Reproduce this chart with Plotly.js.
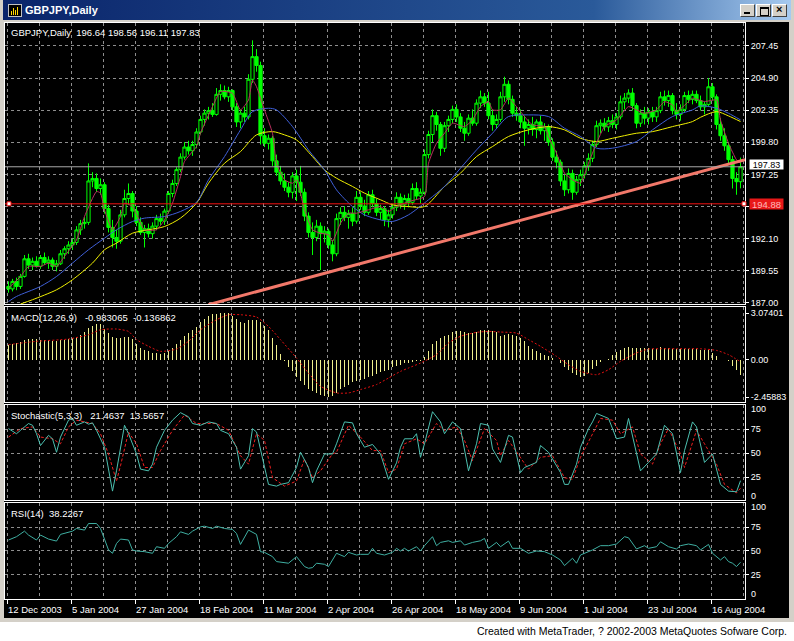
<!DOCTYPE html>
<html><head><meta charset="utf-8">
<script src="https://cdn.plot.ly/plotly-3.0.1.min.js"></script>
<style>
html,body{margin:0;padding:0;width:794px;height:641px;overflow:hidden;background:#fff;}
#win{position:absolute;left:0;top:0;width:794px;height:622px;background:#D4D0C8;}
#tb{position:absolute;left:3px;top:0;width:788px;height:20px;background:linear-gradient(to right,#0A246A 0%,#2A5A9A 75%,#A6CAF0 100%);}
#icon{position:absolute;left:5px;top:4px;width:12px;height:11px;background:#000;border:1px solid #C0C0C0;}
#icon i{position:absolute;bottom:1px;width:1px;background:#FFD800;}
#ttl{position:absolute;left:22px;top:3px;font:bold 11px "Liberation Sans",Arial,sans-serif;color:#fff;line-height:14px;white-space:nowrap;}
.btn{position:absolute;top:4px;width:15px;height:13px;background:#D4D0C8;border-top:1px solid #fff;border-left:1px solid #fff;border-right:1px solid #404040;border-bottom:1px solid #404040;box-sizing:border-box;}
.btn b{position:absolute;display:block;}
#chart{position:absolute;left:4px;top:22px;width:785px;height:596px;background:#000;}
#foot{position:absolute;right:7px;top:625px;font:10.5px "Liberation Sans",Arial,sans-serif;color:#000;white-space:nowrap;line-height:13px;}
</style></head>
<body>
<div id="win">
  <div id="tb">
    <div id="icon"><i style="left:2px;height:4px"></i><i style="left:4px;height:7px"></i><i style="left:6px;height:5px"></i><i style="left:8px;height:8px"></i></div>
    <div id="ttl">GBPJPY,Daily</div>
  </div>
  <div class="btn" style="left:740px"><b style="left:3px;top:7px;width:6px;height:2px;background:#000"></b></div>
  <div class="btn" style="left:756px"><b style="left:3px;top:2px;width:7px;height:6px;border:1px solid #000;border-top-width:2px"></b></div>
  <div class="btn" style="left:772px"><b style="left:3px;top:-2px;font:bold 11px 'Liberation Sans',Arial;color:#000">&#215;</b></div>
  <div id="chart"></div>
</div>
<div id="foot">Created with MetaTrader, ? 2002-2003 MetaQuotes Sofware Corp.</div>
<script>
// ---------------- DATA ----------------
const symbolName = 'GBPJPY,Daily';
const dateLabels = ['12 Dec 2003','5 Jan 2004','27 Jan 2004','18 Feb 2004','11 Mar 2004','2 Apr 2004','26 Apr 2004','18 May 2004','9 Jun 2004','1 Jul 2004','23 Jul 2004','16 Aug 2004'];
const dateIdx = [0,16,32,48,64,80,96,112,128,144,160,176];
const priceTickVals = [187.00,189.556,192.113,194.669,197.225,199.781,202.338,204.894,207.45];
// the 194.65 label is hidden behind the red level box in the original
const priceTickText = ['187.00','189.55','192.10','','197.25','199.80','202.35','204.90','207.45'];

const opens = [188.30,188.10,188.70,188.30,189.10,190.50,190.00,190.30,189.90,190.60,
190.20,190.40,189.90,190.10,190.90,191.30,191.60,191.80,192.80,193.30,
193.40,196.70,196.90,196.10,196.40,194.50,193.00,192.20,191.90,194.00,
195.30,195.70,194.30,193.40,192.60,192.90,192.50,193.10,193.70,193.50,
194.30,195.70,196.50,197.60,198.60,199.40,199.10,199.60,200.60,201.60,
202.10,202.30,202.00,203.60,203.90,203.40,203.90,202.60,201.40,202.10,
201.80,204.80,206.60,205.90,200.30,199.70,200.10,198.30,197.40,196.70,
196.20,195.80,197.10,196.60,195.80,193.90,192.60,192.20,193.10,192.50,
192.70,191.60,190.90,193.70,194.20,193.80,194.10,193.50,195.40,194.70,
194.20,195.60,194.90,194.20,194.50,193.60,194.00,194.60,195.40,194.80,
195.30,195.00,196.10,195.50,195.80,198.80,200.40,201.90,201.20,199.30,
201.10,201.60,202.40,201.80,200.90,200.50,201.70,201.30,202.90,203.40,
202.90,201.90,201.20,201.60,203.40,204.40,203.20,202.10,201.90,201.40,
200.90,201.20,200.80,201.40,200.70,201.00,199.80,198.60,198.20,196.70,
196.00,197.30,195.80,196.80,197.20,197.90,198.50,199.60,201.10,201.30,
201.00,201.50,201.20,201.80,203.00,203.30,203.70,202.70,201.30,202.10,
201.70,202.20,201.80,202.30,203.40,203.10,203.50,202.30,202.00,202.40,
203.50,203.20,203.60,203.10,202.60,202.80,204.20,203.40,201.20,200.30,
199.50,198.40,196.90,196.64];
const highs = [188.70,188.90,189.00,189.30,190.80,190.90,190.60,190.70,190.80,191.00,
190.70,190.60,190.40,191.20,191.50,191.90,192.10,193.10,193.60,193.80,
198.10,197.40,197.30,196.90,196.60,194.80,193.60,192.80,194.40,196.00,
196.50,195.90,194.70,193.80,193.20,193.30,193.40,194.00,194.10,194.50,
195.90,196.80,197.80,198.90,199.80,199.90,199.90,200.90,201.90,202.40,
202.60,202.90,204.10,204.40,204.30,204.20,204.00,202.90,202.40,202.60,
205.20,207.90,207.20,206.20,200.90,200.40,200.30,198.80,197.90,197.30,
196.60,197.40,197.60,197.90,196.10,194.20,193.40,193.60,193.40,193.10,
192.90,192.00,194.10,194.60,194.70,194.40,194.60,195.90,195.80,195.20,
195.90,196.00,195.30,194.80,194.70,194.40,194.90,195.80,195.70,195.60,
195.70,196.50,196.60,196.10,199.20,200.70,202.40,202.20,201.40,201.40,
201.90,202.70,202.80,202.10,201.40,202.00,202.40,203.20,203.90,203.70,
203.80,202.40,202.00,203.80,205.00,204.70,203.50,202.60,202.40,201.90,
201.60,201.80,201.60,201.90,201.30,201.20,200.10,199.10,198.40,197.20,
197.70,197.60,197.10,197.60,198.20,198.90,199.90,201.50,201.60,201.70,
201.80,202.00,202.10,203.50,203.70,204.00,204.10,202.90,202.40,202.60,
202.50,202.60,202.60,203.80,203.90,203.90,203.70,202.90,202.80,203.80,
203.90,203.90,203.90,203.50,203.00,204.90,204.50,203.60,201.70,200.90,
199.80,198.70,197.40,198.56];
const lows = [187.80,187.90,188.00,188.10,189.00,189.70,189.60,189.80,189.70,190.00,
189.70,189.60,189.50,190.00,190.50,190.90,191.20,191.60,192.40,192.90,
193.20,196.20,195.80,195.60,194.10,192.60,191.40,191.30,191.70,193.80,
194.80,193.80,193.10,192.40,191.40,192.20,192.10,192.80,193.20,193.20,
194.10,195.40,196.30,197.40,198.40,198.80,198.70,199.30,200.40,201.10,
201.60,201.80,201.90,203.10,203.20,203.00,202.30,201.00,200.90,201.40,
201.60,204.50,205.40,199.60,199.40,199.20,197.90,197.10,196.40,195.90,
195.40,195.30,195.10,195.50,193.50,192.20,190.80,191.90,189.60,191.80,
191.30,190.30,190.70,193.20,193.50,192.90,193.10,193.30,194.40,193.90,
194.00,194.60,193.90,193.60,193.10,193.00,193.70,194.30,194.50,194.40,
194.60,194.80,195.20,194.90,195.60,198.50,199.80,200.70,198.70,199.00,
200.60,201.30,201.40,200.60,199.90,200.30,201.10,201.10,202.50,202.60,
201.60,200.70,200.90,201.40,203.00,202.80,201.80,201.50,200.90,199.50,
200.40,200.30,200.10,200.40,199.90,199.50,198.30,197.70,196.30,195.50,
195.70,195.20,195.60,196.30,196.90,197.50,198.20,199.40,200.50,200.70,
200.60,200.90,200.80,201.60,202.40,202.90,202.30,200.90,201.00,201.20,
201.20,201.40,201.40,202.10,202.70,202.60,202.00,201.60,201.50,202.20,
202.90,202.80,202.90,202.30,202.00,202.60,203.10,200.80,199.90,199.10,
198.00,196.10,195.60,196.11];
const closes = [188.10,188.70,188.30,189.10,190.50,190.00,190.30,189.90,190.60,190.20,
190.40,189.90,190.10,190.90,191.30,191.60,191.80,192.80,193.30,193.40,
196.70,196.90,196.10,196.40,194.50,193.00,192.20,191.90,194.00,195.30,
195.70,194.30,193.40,192.60,192.90,192.50,193.10,193.70,193.50,194.30,
195.70,196.50,197.60,198.60,199.40,199.10,199.60,200.60,201.60,202.10,
202.30,202.00,203.60,203.90,203.40,203.90,202.60,201.40,202.10,201.80,
204.80,206.60,205.90,200.30,199.70,200.10,198.30,197.40,196.70,196.20,
195.80,197.10,196.60,195.80,193.90,192.60,192.20,193.10,192.50,192.70,
191.60,190.90,193.70,194.20,193.80,194.10,193.50,195.40,194.70,194.20,
195.60,194.90,194.20,194.50,193.60,194.00,194.60,195.40,194.80,195.30,
195.00,196.10,195.50,195.80,198.80,200.40,201.90,201.20,199.30,201.10,
201.60,202.40,201.80,200.90,200.50,201.70,201.30,202.90,203.40,202.90,
201.90,201.20,201.60,203.40,204.40,203.20,202.10,201.90,201.40,200.90,
201.20,200.80,201.40,200.70,201.00,199.80,198.60,198.20,196.70,196.00,
197.30,195.80,196.80,197.20,197.90,198.50,199.60,201.10,201.30,201.00,
201.50,201.20,201.80,203.00,203.30,203.70,202.70,201.30,202.10,201.70,
202.20,201.80,202.30,203.40,203.10,203.50,202.30,202.00,202.40,203.50,
203.20,203.60,203.10,202.60,202.80,204.20,203.40,201.20,200.30,199.50,
198.40,196.90,196.64,197.83];

// moving averages (bar index, price)
const blueX = [0,2,8,12,16,20,24,27,31,34,39,43,47,50,54,58,61,65,67,71,75,79,82,86,89,93,96,100,105,109,113,117,121,125,130,135,139,143,147,151,157,161,166,171,173,177,180,183];
const blueY = [187.10,187.50,188.30,189.09,190.16,191.22,192.14,192.81,193.47,193.74,193.87,194.27,195.00,196.79,198.64,200.77,202.22,202.49,202.36,201.03,199.17,197.58,195.99,194.66,194.00,193.60,193.47,194.00,195.20,196.26,197.72,199.17,200.50,201.83,201.96,201.83,200.90,200.24,199.31,199.31,199.84,200.77,201.83,202.36,202.68,202.49,202.09,201.56];
const yellowX = [3,6,12,16,21,24,27,31,35,39,43,47,50,54,58,62,66,69,72,76,79,82,86,89,93,96,100,104,109,113,117,121,125,130,135,139,143,147,151,157,161,166,171,173,177,180,183];
const yellowY = [186.90,187.24,188.03,188.83,190.16,191.22,191.75,192.54,192.81,193.07,193.74,194.93,196.52,198.11,199.04,200.37,200.63,200.37,199.97,198.64,197.58,196.92,196.26,195.73,195.20,194.80,194.66,194.66,196.26,197.32,198.64,199.44,200.24,200.77,201.03,200.77,200.10,199.84,200.10,200.50,200.63,201.03,201.43,201.77,202.22,201.88,201.43];
const pinkX = [0,3,5,8,10,12,14,17,19,22,23,24,26,28,29,31,33,34,37,39,41,43,44,47,48,51,53,56,58,60,61,62,64,66,67,69,71,72,74,76,78,80,81,83,85,87,90,93,95,97,100,104,105,107,109,111,114,116,118,120,121,123,125,127,129,131,134,135,137,139,141,143,145,147,149,152,155,157,159,162,164,166,167,170,171,174,177,178,180,182,183];
const pinkY = [188.17,189.09,189.89,189.89,190.16,189.89,190.69,192.01,193.87,195.86,195.73,194.40,192.81,193.87,194.93,194.66,193.34,192.81,192.81,193.60,194.93,197.05,198.25,199.44,200.50,202.62,203.82,203.68,202.36,203.15,204.74,204.21,202.36,200.50,198.11,196.79,196.52,196.79,194.40,192.81,192.54,192.41,191.88,193.34,194.13,194.13,194.40,194.66,194.27,194.66,195.06,195.46,198.11,199.70,200.50,201.30,201.03,201.56,202.62,203.02,202.36,202.36,203.29,202.62,201.83,201.16,201.03,200.24,198.91,197.32,196.79,196.52,198.11,199.70,201.03,201.56,202.62,202.36,202.09,202.36,203.02,202.75,202.22,203.02,203.29,203.02,203.15,201.56,199.70,198.38,198.11];

// drawn objects
const levelPrice = 194.88;
const trendX = [50, 184.125];
const trendY = [186.85, 198.39];

// MACD(12,26,9)
const macdHist = [0.99,1.05,1.12,1.18,1.30,1.33,1.35,1.36,1.32,1.30,1.28,1.26,1.25,1.28,1.30,1.36,1.40,1.50,1.60,1.80,
2.08,2.25,2.37,2.32,2.05,1.75,1.52,1.45,1.46,1.50,1.48,1.35,1.05,0.77,0.65,0.55,0.46,0.41,0.39,0.45,
0.55,0.80,1.05,1.32,1.55,1.75,1.95,2.15,2.50,2.70,2.85,2.98,3.03,3.07401,3.05,3.07,2.85,2.70,2.45,2.40,
2.59,2.63,2.60,2.46,2.20,1.97,1.45,0.95,0.40,-0.11,-0.45,-0.75,-1.15,-1.40,-1.64,-1.90,-2.05,-2.22,-2.35,-2.41,
-2.45883,-2.38,-2.20,-1.93,-1.78,-1.64,-1.48,-1.40,-1.32,-1.25,-1.14,-1.05,-0.95,-0.80,-0.72,-0.66,-0.50,-0.40,-0.33,-0.25,
-0.20,-0.15,-0.12,-0.08,0.15,0.55,1.00,1.25,1.43,1.55,1.64,1.80,1.86,1.86,1.80,1.75,1.78,1.80,1.93,1.95,
1.97,1.90,1.80,1.58,1.65,1.71,1.62,1.58,1.40,1.20,0.88,0.70,0.55,0.44,0.30,0.22,0.08,0.00,-0.25,-0.45,
-0.66,-0.85,-0.99,-1.14,-1.05,-0.88,-0.60,-0.40,-0.15,-0.05,0.04,0.30,0.50,0.66,0.75,0.83,0.80,0.77,0.78,0.76,
0.77,0.72,0.70,0.83,0.80,0.77,0.72,0.70,0.70,0.72,0.70,0.70,0.68,0.66,0.65,0.66,0.45,0.25,0.00,-0.05,
-0.11,-0.40,-0.70,-0.983065];
const macdSigX = [0,7,15,20,23,27,30,32,35,38,42,45,48,52,55,58,62,65,68,72,75,78,82,85,88,92,95,98,100,103,107,110,113,117,120,123,127,130,133,137,140,143,147,150,153,157,160,163,167,170,173,177,180,183];
const macdSigY = [0.99,1.21,1.36,1.64,1.97,2.02,1.86,1.32,0.88,0.55,0.70,1.21,1.97,2.63,2.96,2.96,2.81,2.19,1.32,0.11,-0.88,-1.75,-2.19,-2.19,-1.97,-1.64,-1.21,-0.77,-0.55,-0.22,0.33,1.10,1.54,1.80,1.86,1.82,1.75,1.32,0.88,0.22,-0.33,-0.77,-0.99,-0.66,-0.11,0.44,0.70,0.72,0.72,0.72,0.72,0.61,0.33,-0.136862];
const macdTicks = [3.07401, 0, -2.45883];
const macdTickText = ['3.07401','0.00','-2.45883'];

// Stochastic(5,3,3)
const stochKX = [0,2,3,5,6,7,8,10,11,12,13,15,16,17,19,20,21,22,24,25,26,27,29,30,32,33,35,36,37,39,41,43,45,46,48,50,52,53,55,57,58,60,61,62,63,65,67,68,70,72,73,75,76,77,79,81,82,84,86,87,89,91,93,95,97,98,99,101,102,103,104,106,108,109,111,113,115,117,118,120,121,123,125,126,128,129,132,133,135,138,139,140,142,143,145,146,147,148,150,152,154,155,156,158,160,162,164,166,168,169,171,172,174,176,178,180,182,183];
const stochKY = [75.7,70.4,73.9,81.0,79.2,70.4,58.1,68.7,65.1,51.1,66.9,84.5,86.3,79.2,82.7,80.3,81.7,73.9,56.3,35.2,10.6,31.7,79.2,70.4,49.3,33.5,31.7,38.7,56.3,73.9,84.5,92.3,88.0,81.0,79.2,82.7,81.0,73.9,70.4,56.3,33.5,47.5,75.7,72.2,52.8,17.6,15.8,17.6,19.4,35.2,51.1,35.2,19.4,31.7,49.3,49.3,59.9,82.7,81.7,70.4,56.3,59.2,49.3,22.9,40.0,56.3,65.1,65.1,70.4,45.8,59.9,93.3,82.7,70.4,82.7,75.7,31.7,59.9,81.0,79.2,54.6,40.5,68.7,66.9,29.9,35.2,40.5,58.1,51.1,29.9,17.6,17.6,38.7,56.3,75.7,82.7,91.5,89.8,86.3,65.1,66.9,86.3,66.9,31.7,40.5,49.3,79.2,70.4,29.9,52.8,82.7,77.5,40.5,49.3,17.6,10.6,9.9,21.4637];
const stochDX = [0,3,6,8,11,13,15,17,21,23,25,27,28,30,32,34,36,38,41,44,47,52,55,58,60,62,64,66,69,72,74,76,78,81,82,85,88,91,93,95,97,99,102,104,107,109,112,114,116,119,122,123,125,128,130,133,136,139,141,143,146,148,151,153,156,158,161,163,165,168,169,172,174,177,179,182,183];
const stochDY = [66.9,75.7,77.5,66.9,65.1,59.9,77.5,84.5,81.0,70.4,49.3,21.1,37.0,72.2,59.9,35.2,35.2,52.8,73.9,89.8,81.0,81.0,73.9,47.5,38.7,70.4,63.4,24.6,15.8,21.1,44.0,24.6,31.7,49.3,51.1,79.2,66.9,52.8,52.8,29.9,33.5,59.9,65.1,59.9,81.0,73.9,77.5,63.4,42.3,75.7,63.4,47.5,63.4,45.8,33.5,45.8,47.5,24.6,22.9,45.8,70.4,86.3,84.5,70.4,77.5,49.3,38.7,59.9,75.7,49.3,35.2,73.9,59.9,38.7,17.6,8.8,13.5657];

// RSI(14)
const rsiX = [0,2,4,5,7,8,10,12,13,15,16,17,19,20,22,23,24,25,26,27,28,30,31,32,34,36,37,39,40,42,43,45,46,48,49,51,52,54,56,57,58,59,60,62,63,64,66,67,70,72,74,75,76,77,79,80,82,84,85,87,88,90,91,92,94,96,97,98,99,100,102,103,104,106,107,108,110,111,113,114,116,118,119,120,122,123,125,126,128,130,132,134,136,138,139,141,142,143,145,146,148,150,152,154,155,157,159,160,162,163,165,167,168,170,172,173,175,176,178,179,180,181,182,183];
const rsiY = [61.5,65.0,70.8,66.7,61.5,66.7,62.5,60.4,67.4,69.4,70.8,73.6,71.9,78.8,78.8,73.6,61.5,51.1,47.6,57.9,62.5,61.5,51.1,50.0,49.3,47.6,54.5,52.8,57.9,65.0,70.1,67.4,70.8,75.3,76.0,73.6,76.0,73.6,72.6,68.4,56.9,65.0,71.9,67.4,49.3,48.6,44.1,38.9,37.2,44.1,33.7,31.9,32.6,37.2,36.1,33.7,47.6,44.1,48.6,45.8,46.5,46.5,52.8,47.6,45.8,48.6,52.8,50.0,52.8,50.0,54.5,50.0,55.6,65.0,55.6,59.0,60.7,59.0,60.7,56.2,59.0,60.7,63.2,52.8,59.0,54.5,60.4,52.8,52.8,47.6,50.0,49.3,45.8,40.6,34.7,42.4,37.2,45.8,49.3,51.1,55.6,55.6,57.3,65.0,63.9,52.1,55.6,52.8,54.5,59.7,54.5,52.1,55.6,57.3,55.6,51.1,56.9,47.6,40.6,44.1,38.9,37.2,33.7,38.2267];

// ---------------- CHART ----------------
const N = closes.length;
const idx = closes.map((_, i) => i);
const last = N - 1;
const GRID = '#8E8E8E';
const FONT = 'Liberation Sans, Arial, sans-serif';
const XR = [-0.875, 184.125];
const gridX0 = -0.375;
const dateTickX = dateIdx.map(i => i + gridX0);
const NB = '\u00a0';

function xax(yref, bottom) {
  return {
    domain: [0, 1], anchor: yref, range: XR, fixedrange: true,
    tickmode: 'array', tickvals: dateTickX, showticklabels: false,
    ticks: bottom ? 'outside' : '', ticklen: 4, tickcolor: '#ffffff', tickwidth: 1,
    showgrid: true, gridcolor: GRID, griddash: '3px,3px', gridwidth: 1,
    minor: {tickmode: 'linear', tick0: gridX0, dtick: 8, showgrid: true, gridcolor: GRID, griddash: '3px,3px', gridwidth: 1, ticks: ''},
    showline: true, mirror: true, linecolor: '#ffffff', linewidth: 1, zeroline: false
  };
}
function yax(domain, range, vals, text, grid) {
  return {
    domain: domain, range: range, side: 'right', fixedrange: true,
    tickmode: 'array', tickvals: vals, ticktext: text,
    ticks: 'outside', ticklen: 3, tickcolor: '#ffffff',
    tickfont: {family: FONT, size: 9, color: '#ffffff'},
    showgrid: grid, gridcolor: GRID, griddash: '3px,3px', gridwidth: 1,
    showline: true, mirror: true, linecolor: '#ffffff', linewidth: 1, zeroline: false
  };
}

const traces = [
  {type: 'candlestick', x: idx, open: opens, high: highs, low: lows, close: closes,
   xaxis: 'x', yaxis: 'y', whiskerwidth: 0, hoverinfo: 'skip',
   increasing: {line: {color: '#00FF00', width: 1}, fillcolor: '#000000'},
   decreasing: {line: {color: '#00FF00', width: 1}, fillcolor: '#00FF00'}},
  {type: 'scatter', mode: 'lines', x: yellowX, y: yellowY, xaxis: 'x', yaxis: 'y',
   line: {color: '#F0F000', width: 1, shape: 'spline', smoothing: 0.8}},
  {type: 'scatter', mode: 'lines', x: blueX, y: blueY, xaxis: 'x', yaxis: 'y',
   line: {color: '#3F5FD8', width: 1, shape: 'spline', smoothing: 0.8}},
  {type: 'scatter', mode: 'lines', x: pinkX, y: pinkY, xaxis: 'x', yaxis: 'y',
   line: {color: '#B8305E', width: 1, shape: 'spline', smoothing: 0.5}},
  {type: 'scatter', mode: 'lines', x: trendX, y: trendY, xaxis: 'x', yaxis: 'y',
   line: {color: '#F2786A', width: 3}},
  {type: 'bar', x: idx, y: macdHist, xaxis: 'x2', yaxis: 'y2', width: 0.3,
   marker: {color: '#F0F08C', line: {width: 0}}},
  {type: 'scatter', mode: 'lines', x: macdSigX, y: macdSigY, xaxis: 'x2', yaxis: 'y2',
   line: {color: '#E01010', width: 1, dash: '2px,2px', shape: 'spline', smoothing: 0.6}},
  {type: 'scatter', mode: 'lines', x: stochDX, y: stochDY, xaxis: 'x3', yaxis: 'y3',
   line: {color: '#F02020', width: 1, dash: '3px,2px'}},
  {type: 'scatter', mode: 'lines', x: stochKX, y: stochKY, xaxis: 'x3', yaxis: 'y3',
   line: {color: '#4CC0B0', width: 1}},
  {type: 'scatter', mode: 'lines', x: rsiX, y: rsiY, xaxis: 'x4', yaxis: 'y4',
   line: {color: '#3FAFA2', width: 1}}
];

const bid = closes[last];
const annotations = [
  {xref: 'paper', x: 0, xanchor: 'left', xshift: 4, yref: 'y domain', y: 1, yanchor: 'top', yshift: -2,
   text: symbolName + NB + NB + [opens[last], highs[last], lows[last], closes[last]].map(v => v.toFixed(2)).join(' '),
   showarrow: false, font: {family: FONT, size: 9.5, color: '#ffffff'}},
  {xref: 'paper', x: 0, xanchor: 'left', xshift: 4, yref: 'y2 domain', y: 1, yanchor: 'top', yshift: -3,
   text: 'MACD(12,26,9)' + NB + NB + NB + String(macdHist[last]) + NB + NB + String(macdSigY[macdSigY.length - 1]),
   showarrow: false, font: {family: FONT, size: 9.5, color: '#ffffff'}},
  {xref: 'paper', x: 0, xanchor: 'left', xshift: 4, yref: 'y3 domain', y: 1, yanchor: 'top', yshift: -3,
   text: 'Stochastic(5,3,3)' + NB + NB + NB + String(stochKY[stochKY.length - 1]) + NB + NB + String(stochDY[stochDY.length - 1]),
   showarrow: false, font: {family: FONT, size: 9.5, color: '#ffffff'}},
  {xref: 'paper', x: 0, xanchor: 'left', xshift: 4, yref: 'y4 domain', y: 1, yanchor: 'top', yshift: -3,
   text: 'RSI(14)' + NB + NB + String(rsiY[rsiY.length - 1]),
   showarrow: false, font: {family: FONT, size: 9.5, color: '#ffffff'}},
  {xref: 'paper', x: 1, xanchor: 'left', xshift: 4, yref: 'y', y: bid, yanchor: 'middle', yshift: 2,
   text: bid.toFixed(2), showarrow: false, bgcolor: '#ffffff', borderpad: 0, width: 33, height: 9,
   font: {family: FONT, size: 9, color: '#000000'}},
  {xref: 'paper', x: 1, xanchor: 'left', xshift: 4, yref: 'y', y: levelPrice, yanchor: 'middle',
   text: levelPrice.toFixed(2), showarrow: false, bgcolor: '#E81818', borderpad: 0, width: 33, height: 10,
   font: {family: FONT, size: 9.5, color: '#FFB8B8'}},
  {xref: 'paper', x: 1, xanchor: 'left', xshift: 4, yref: 'y3 domain', y: 1, yanchor: 'middle', yshift: -4,
   text: '100', showarrow: false, font: {family: FONT, size: 9, color: '#ffffff'}},
  {xref: 'paper', x: 1, xanchor: 'left', xshift: 4, yref: 'y3 domain', y: 0, yanchor: 'middle', yshift: 4,
   text: '0', showarrow: false, font: {family: FONT, size: 9, color: '#ffffff'}},
  {xref: 'paper', x: 1, xanchor: 'left', xshift: 4, yref: 'y4 domain', y: 1, yanchor: 'middle', yshift: -4,
   text: '100', showarrow: false, font: {family: FONT, size: 9, color: '#ffffff'}},
  {xref: 'paper', x: 1, xanchor: 'left', xshift: 4, yref: 'y4 domain', y: 0, yanchor: 'middle', yshift: 5,
   text: '0', showarrow: false, font: {family: FONT, size: 9, color: '#ffffff'}}
];
dateLabels.forEach((t, k) => annotations.push({
  xref: 'x4', x: dateTickX[k], xanchor: 'left', xshift: -1, yref: 'paper', y: 0, yanchor: 'top', yshift: -3,
  text: t, showarrow: false, font: {family: FONT, size: 9.5, color: '#ffffff'}
}));

const shapes = [
  {type: 'line', xref: 'paper', x0: 0, x1: 1, yref: 'y', y0: bid, y1: bid, line: {color: '#A8A8A8', width: 1}},
  {type: 'line', xref: 'paper', x0: 0, x1: 1, yref: 'y', y0: levelPrice, y1: levelPrice, line: {color: '#F01010', width: 1}},
  {type: 'rect', xref: 'paper', xsizemode: 'pixel', xanchor: 0, x0: 2, x1: 6, yref: 'y', ysizemode: 'pixel', yanchor: levelPrice, y0: -2, y1: 2,
   fillcolor: '#ffffff', line: {color: '#F01010', width: 1}},
  {type: 'rect', xref: 'paper', xsizemode: 'pixel', xanchor: 1, x0: -3, x1: 1, yref: 'y', ysizemode: 'pixel', yanchor: levelPrice, y0: -2, y1: 2,
   fillcolor: '#ffffff', line: {color: '#F01010', width: 1}}
];

const layout = {
  width: 785, height: 596,
  margin: {l: 1, r: 44, t: 1, b: 19, pad: 0},
  paper_bgcolor: '#000000', plot_bgcolor: '#000000',
  showlegend: false, hovermode: false, dragmode: false,
  boxgap: 0.2, boxgroupgap: 0, bargap: 0,
  font: {family: FONT, size: 9, color: '#ffffff'},
  xaxis: Object.assign(xax('y', false), {rangeslider: {visible: false}}),
  xaxis2: xax('y2', false),
  xaxis3: xax('y3', false),
  xaxis4: xax('y4', true),
  yaxis: yax([0.51215, 1], [186.90, 209.28], priceTickVals, priceTickText, true),
  yaxis2: yax([0.34201, 0.50781], [-2.788, 3.502], macdTicks, macdTickText, false),
  yaxis3: yax([0.17188, 0.33681], [1.35, 100.3], [25, 50, 75], ['25', '50', '75'], true),
  yaxis4: yax([0, 0.16667], [-0.3, 100.3], [25, 50, 75], ['25', '50', '75'], true),
  annotations: annotations,
  shapes: shapes
};
Plotly.newPlot('chart', traces, layout, {staticPlot: true, displayModeBar: false});
</script>
</body></html>
